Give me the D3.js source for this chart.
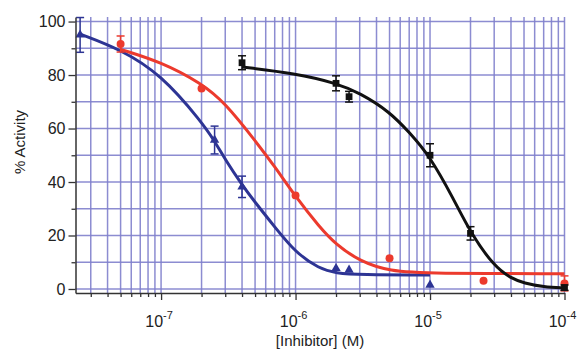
<!DOCTYPE html>
<html>
<head>
<meta charset="utf-8">
<script src="https://cdn.jsdelivr.net/npm/d3@7"></script>
<style>
  body { margin: 0; background: #fff; }
  svg { display: block; font-family: "Liberation Sans", Arial, sans-serif; }
</style>
</head>
<body>
<div id="chart"></div>
<script>
let width = 580;
let height = 349;

// measured points (concentration in M, % activity, error)
let blueX = [2.5e-8, 2.5e-7, 4e-7, 2e-6, 2.5e-6, 1e-5];
let blueY = [95, 55.7, 38.2, 7.7, 7.1, 1.5];
let blueErr = [6.5, 5.2, 4, 0, 0, 0];

let redX = [5e-8, 2e-7, 1e-6, 5e-6, 2.5e-5, 1e-4];
let redY = [91.6, 75, 35, 11.5, 3.1, 2.1];
let redErr = [3, 0, 0, 0, 0, 2.8];

let blackX = [4e-7, 2e-6, 2.5e-6, 1e-5, 2e-5, 1e-4];
let blackY = [84.6, 76.9, 71.9, 50, 20.8, 0.5];
let blackErr = [2.6, 2.8, 2, 4.3, 2.5, 1];

// fitted curves
let blueFitX = [2.5e-8, 5e-8, 1e-7, 2e-7, 2.5e-7, 3e-7, 4e-7, 5e-7, 7e-7, 1e-6, 1.5e-6, 2e-6, 3e-6, 1e-5];
let blueFitY = [95.3, 89.6, 80.2, 62.5, 55.3, 48.4, 38.9, 32.4, 23.2, 13.6, 7.6, 5.9, 5.3, 5.2];

let redFitX = [5e-8, 1e-7, 2e-7, 3e-7, 5e-7, 7e-7, 1e-6, 1.5e-6, 2e-6, 3e-6, 5e-6, 1e-5, 1e-4];
let redFitY = [89.6, 84.9, 76.9, 69.5, 55.5, 45.8, 34.5, 23.3, 16.6, 10.4, 6.6, 5.8, 5.7];

let blackFitX = [4e-7, 1e-6, 2e-6, 3e-6, 5e-6, 7e-6, 1e-5, 1.5e-5, 2e-5, 3e-5, 4e-5, 5e-5, 7e-5, 1e-4];
let blackFitY = [83, 80.6, 77, 73.3, 66.3, 58.6, 49.6, 33.6, 21, 8.4, 4, 2.2, 0.8, 0.4];

let xMajor = [1e-7, 1e-6, 1e-5, 1e-4];
let xMajorExp = ["-7", "-6", "-5", "-4"];
let yMajor = [0, 20, 40, 60, 80, 100];
let yMinor = [10, 30, 50, 70, 90];
let yGrid = [0, 10, 20, 30, 40, 50, 60, 70, 80, 90, 100];

let xDomain = [2.31e-8, 1e-4];
let yDomain = [-1.5, 101.7];

let x = d3.scaleLog().domain(xDomain).range([75.5, 564.5]);
let y = d3.scaleLinear().domain(yDomain).range([293, 17]);

// minor decade ticks 2..9 inside the domain
let xMinor = [];
[-8, -7, -6, -5].forEach(function(e) {
  for (let m = 2; m <= 9; m++) {
    let v = m * Math.pow(10, e);
    if (v > xDomain[0] && v < xDomain[1]) xMinor.push(v);
  }
});

let svg = d3.select("#chart").append("svg")
  .attr("width", width)
  .attr("height", height);

// grid
let grid = svg.append("g")
  .attr("stroke", "#8080cc")
  .attr("stroke-width", 1.5)
  .attr("stroke-opacity", 0.9);
grid.selectAll("line.v")
  .data(xMinor.concat(xMajor))
  .enter().append("line")
  .attr("class", "v")
  .attr("x1", d => x(d)).attr("x2", d => x(d))
  .attr("y1", y.range()[1]).attr("y2", y.range()[0]);
grid.selectAll("line.h")
  .data(yGrid)
  .enter().append("line")
  .attr("class", "h")
  .attr("x1", x.range()[0]).attr("x2", x.range()[1])
  .attr("y1", d => y(d)).attr("y2", d => y(d));

let series = [
  {color: "#2d3494", px: blueX, py: blueY, err: blueErr, fx: blueFitX, fy: blueFitY, shape: "tri"},
  {color: "#ec3a2d", px: redX, py: redY, err: redErr, fx: redFitX, fy: redFitY, shape: "circle"},
  {color: "#111111", px: blackX, py: blackY, err: blackErr, fx: blackFitX, fy: blackFitY, shape: "square"}
];

let line = d3.line()
  .x(d => x(d[0]))
  .y(d => y(d[1]))
  .curve(d3.curveBasis);

series.forEach(function(s) {
  svg.append("path")
    .datum(d3.zip(s.fx, s.fy))
    .attr("fill", "none")
    .attr("stroke", s.color)
    .attr("stroke-width", 3)
    .attr("d", line);
});

series.forEach(function(s) {
  let pts = d3.zip(s.px, s.py, s.err);
  let g = svg.append("g");

  // error bars
  let eb = g.selectAll("g.err")
    .data(pts.filter(d => d[2] > 0))
    .enter().append("g")
    .attr("stroke", s.color)
    .attr("stroke-width", 1.5);
  eb.append("line")
    .attr("x1", d => x(d[0])).attr("x2", d => x(d[0]))
    .attr("y1", d => y(d[1] - d[2])).attr("y2", d => y(d[1] + d[2]));
  eb.append("line")
    .attr("x1", d => x(d[0]) - 4).attr("x2", d => x(d[0]) + 4)
    .attr("y1", d => y(d[1] - d[2])).attr("y2", d => y(d[1] - d[2]));
  eb.append("line")
    .attr("x1", d => x(d[0]) - 4).attr("x2", d => x(d[0]) + 4)
    .attr("y1", d => y(d[1] + d[2])).attr("y2", d => y(d[1] + d[2]));

  // markers
  let sym = s.shape === "tri" ? d3.symbolTriangle : (s.shape === "square" ? d3.symbolSquare : d3.symbolCircle);
  let size = s.shape === "tri" ? 38 : (s.shape === "square" ? 46 : 50);
  g.selectAll("path.pt")
    .data(pts)
    .enter().append("path")
    .attr("class", "pt")
    .attr("fill", s.color)
    .attr("transform", d => "translate(" + x(d[0]) + "," + y(d[1]) + ")")
    .attr("d", d3.symbol().type(sym).size(size));
});

// axes
function styleAxis(g) {
  g.select(".domain").attr("stroke", "#333").attr("stroke-width", 1.5);
  g.selectAll(".tick line").attr("stroke", "#333").attr("stroke-width", 1.3);
  g.selectAll(".tick text").attr("fill", "#222").style("font-size", "16px");
}

svg.append("g")
  .attr("transform", "translate(" + x.range()[0] + ",0)")
  .call(d3.axisLeft(y).tickValues(yMinor).tickSize(4).tickSizeOuter(0).tickFormat(""))
  .call(styleAxis)
  .call(g => g.select(".domain").remove());
svg.append("g")
  .attr("transform", "translate(" + x.range()[0] + ",0)")
  .call(d3.axisLeft(y).tickValues(yMajor).tickSize(7).tickSizeOuter(0).tickPadding(3))
  .call(styleAxis)
  .call(g => g.attr("font-family", null));

svg.append("g")
  .attr("transform", "translate(0," + y.range()[0] + ")")
  .call(d3.axisBottom(x).tickValues(xMinor).tickSize(4).tickSizeOuter(0).tickFormat(""))
  .call(styleAxis)
  .call(g => g.select(".domain").remove());
svg.append("g")
  .attr("transform", "translate(0," + y.range()[0] + ")")
  .call(d3.axisBottom(x).tickValues(xMajor).tickSize(7).tickSizeOuter(0).tickFormat(""))
  .call(styleAxis);

// power-of-ten labels
let lbl = svg.append("g").selectAll("text")
  .data(d3.zip(xMajor, xMajorExp))
  .enter().append("text")
  .attr("x", d => x(d[0]) - 2)
  .attr("y", 327)
  .attr("text-anchor", "middle")
  .attr("fill", "#222")
  .style("font-size", "16px");
lbl.append("tspan").text("10");
lbl.append("tspan").attr("dy", -8).style("font-size", "11px").text(d => d[1]);

svg.append("text")
  .attr("x", (x.range()[0] + x.range()[1]) / 2)
  .attr("y", 346)
  .attr("text-anchor", "middle")
  .attr("fill", "#222")
  .style("font-size", "15px")
  .text("[Inhibitor] (M)");

svg.append("text")
  .attr("transform", "translate(25,142) rotate(-90)")
  .attr("text-anchor", "middle")
  .attr("fill", "#222")
  .style("font-size", "15px")
  .text("% Activity");
</script>
</body>
</html>
